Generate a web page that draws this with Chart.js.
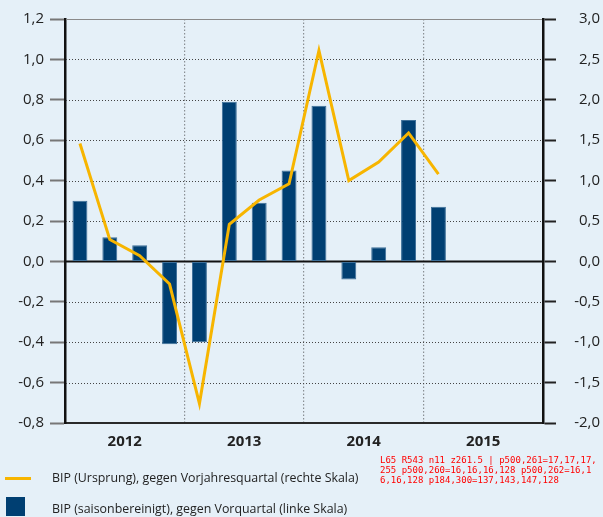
<!DOCTYPE html>
<html>
<head>
<meta charset="utf-8">
<script src="https://cdn.jsdelivr.net/npm/chart.js@4"></script>
<style>
  body { margin: 0; background: #e5f0f8; }
  #wrap { position: relative; width: 603px; height: 517px; }
  #gdp { display: block; }
  .legend { position: absolute; left: 0; font-family: "Open Sans", sans-serif; font-size: 12.4px; color: #222; }
  .legend span { position: absolute; }
</style>
</head>
<body>
<div id="wrap">
  <canvas id="gdp" width="603" height="517"></canvas>
  <div class="legend" style="top:469px">
    <span style="left:5px;top:8px;width:26px;height:3px;background:#f7b500"></span>
    <span id="lblLine" style="left:52px;top:0px;white-space:nowrap"></span>
  </div>
  <div class="legend" style="top:497px">
    <span style="left:6px;top:0px;width:19px;height:19px;background:#003f72"></span>
    <span id="lblBar" style="left:52px;top:3px;white-space:nowrap"></span>
  </div>
  <div id="dbg" style="position:absolute;left:380px;top:455px;width:220px;font:9px monospace;color:red;word-break:break-all"></div>
</div>
<script>
// quarters 2012 Q1 .. 2015 Q4
const quarters = ['2012 Q1', '2012 Q2', '2012 Q3', '2012 Q4',
                  '2013 Q1', '2013 Q2', '2013 Q3', '2013 Q4',
                  '2014 Q1', '2014 Q2', '2014 Q3', '2014 Q4',
                  '2015 Q1', '2015 Q2', '2015 Q3', '2015 Q4'];
const years = ['2012', '2013', '2014', '2015'];

// BIP saisonbereinigt, gegen Vorquartal (linke Skala)
const bipVorquartal = [0.30, 0.12, 0.08, -0.41, -0.40, 0.79, 0.29, 0.45, 0.77, -0.09, 0.07, 0.70, 0.27];
// BIP Ursprung, gegen Vorjahresquartal (rechte Skala)
const bipVorjahr = [1.46, 0.27, 0.07, -0.28, -1.76, 0.46, 0.76, 0.96, 2.61, 1.00, 1.23, 1.59, 1.08];

const lineLabel = 'BIP (Ursprung), gegen Vorjahresquartal (rechte Skala)';
const barLabel = 'BIP (saisonbereinigt), gegen Vorquartal (linke Skala)';

document.getElementById('lblLine').textContent = lineLabel;
document.getElementById('lblBar').textContent = barLabel;

const fmt = v => v.toFixed(1).replace('.', ',');
const fontFam = '"Open Sans", sans-serif';
const log = [];

// horizontal grid lines from the left scale's ticks
const hGrid = {
    id: 'hGrid',
    beforeDatasetsDraw(chart) {
        const { ctx, chartArea: a, scales: { y } } = chart;
        log.push('L' + a.left + ' R' + a.right + ' n' + y.ticks.length);
        ctx.save();
        y.ticks.forEach((t, i) => {
            if (i === 0) return;
            const py = Math.round(y.getPixelForValue(t.value)) + 0.5;
            const zero = Math.abs(t.value) < 1e-9;
            const top = i === y.ticks.length - 1;
            ctx.beginPath();
            ctx.lineWidth = zero ? 2 : 1;
            ctx.strokeStyle = zero ? '#111' : (top ? '#8a8a8a' : '#444');
            ctx.setLineDash(zero || top ? [] : [1, 2]);
            ctx.moveTo(a.left + 1, py);
            ctx.lineTo(a.right - 1, py);
            ctx.stroke();
            if (zero) log.push('z' + py);
        });
        ctx.restore();
    }
};

const chart = new Chart(document.getElementById('gdp'), {
    type: 'bar',
    data: {
        labels: quarters,
        datasets: [{
            type: 'line',
            label: lineLabel,
            data: bipVorjahr,
            yAxisID: 'y1',
            xAxisID: 'x',
            borderColor: '#f7b500',
            borderWidth: 3,
            pointRadius: 0,
            tension: 0,
            order: 0
        }, {
            type: 'bar',
            label: barLabel,
            data: bipVorquartal,
            yAxisID: 'y',
            xAxisID: 'x',
            backgroundColor: '#003f72',
            borderColor: '#3d6f98',
            borderWidth: 1,
            borderSkipped: false,
            barPercentage: 0.5,
            categoryPercentage: 1,
            order: 1
        }]
    },
    options: {
        responsive: false,
        animation: false,
        layout: { padding: { top: 19, right: 3, bottom: 62, left: 0 } },
        plugins: { legend: { display: false }, tooltip: { enabled: false } },
        scales: {
            x: { display: false, offset: true },
            years: {
                type: 'category',
                labels: years,
                position: 'bottom',
                offset: true,
                grid: { offset: true, drawTicks: false, color: '#8a8f94', lineWidth: 1.2 },
                border: { color: '#2a2a2a', width: 2, dash: [1.5, 2] },
                ticks: { color: '#222', padding: 10, font: { family: fontFam, size: 15, weight: 'bold' } },
                afterFit: s => { s.height = 32; }
            },
            y: {
                position: 'left',
                min: -0.8, max: 1.2,
                ticks: { stepSize: 0.2, callback: v => fmt(v), color: '#222', padding: 6,
                         font: { family: fontFam, size: 15 } },
                grid: { drawOnChartArea: false, tickColor: '#777', tickWidth: 2, tickLength: 15 },
                border: { color: '#111', width: 2.5 },
                afterFit: s => { s.width = 65; }
            },
            y1: {
                position: 'right',
                min: -2, max: 3,
                ticks: { stepSize: 0.5, callback: v => fmt(v), color: '#222', crossAlign: 'far',
                         font: { family: fontFam, size: 15 } },
                grid: { drawOnChartArea: false, tickColor: '#222', tickWidth: 2, tickLength: 13 },
                border: { color: '#111', width: 2.5 },
                afterFit: s => { s.width = 57; }
            }
        }
    },
    plugins: [hGrid]
});
const c2 = document.getElementById('gdp').getContext('2d');
const px = (x, y) => Array.from(c2.getImageData(x, y, 1, 1).data).join(',');
document.getElementById('dbg').textContent = log.join(' ') + ' | p500,261=' + px(500, 261) + ' p500,260=' + px(500, 260) +
    ' p500,262=' + px(500, 262) + ' p184,300=' + px(184, 300);
</script>
</body>
</html>
